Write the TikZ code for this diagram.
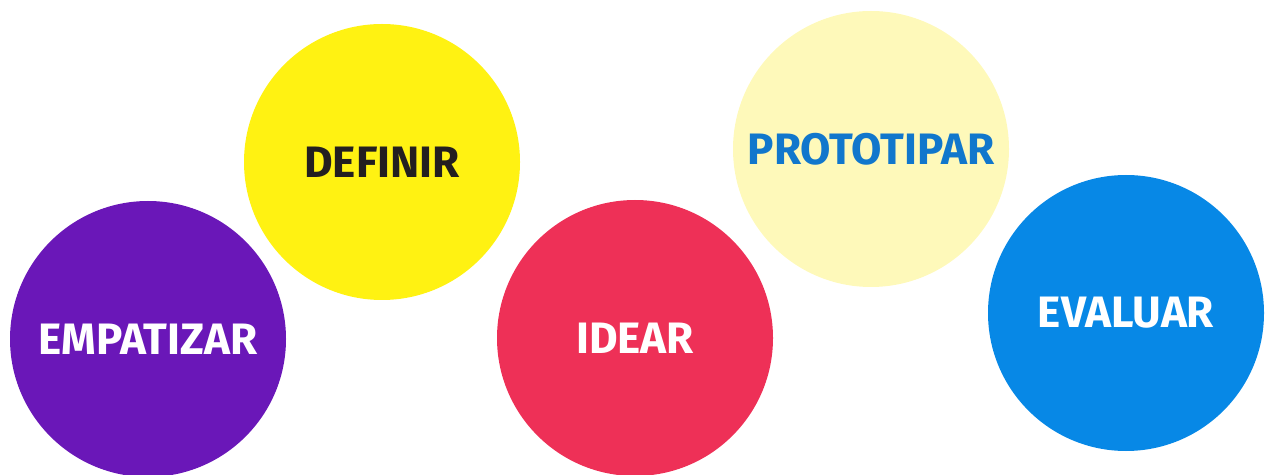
\documentclass[tikz,border=0pt]{standalone}
\usepackage{fontspec}
\setmainfont{Fira Sans}
\definecolor{morado}{HTML}{6A17B8}
\definecolor{amarillo}{HTML}{FFF212}
\definecolor{rojo}{HTML}{EE3057}
\definecolor{crema}{HTML}{FEF9BA}
\definecolor{azul}{HTML}{0788E6}
\definecolor{azultexto}{HTML}{1177CC}
\definecolor{negro}{HTML}{231F20}
\begin{document}
\begin{tikzpicture}[x=1pt,y=1pt,
  etapa/.style={circle,minimum size=276pt,inner sep=0pt,font=\fontsize{44}{44}\selectfont\bfseries}]
  \useasboundingbox (0,0) rectangle (1266,474);
  \node[etapa,fill=morado,text=white] (empatizar) at (148,135) {EMPATIZAR};
  \node[etapa,fill=amarillo,text=negro] (definir) at (382,312) {DEFINIR};
  \node[etapa,fill=rojo,text=white] (idear) at (635,136) {IDEAR};
  \node[etapa,fill=crema,text=azultexto] (prototipar) at (871,325) {PROTOTIPAR};
  \node[etapa,fill=azul,text=white] (evaluar) at (1126,161) {EVALUAR};
\end{tikzpicture}
\end{document}
